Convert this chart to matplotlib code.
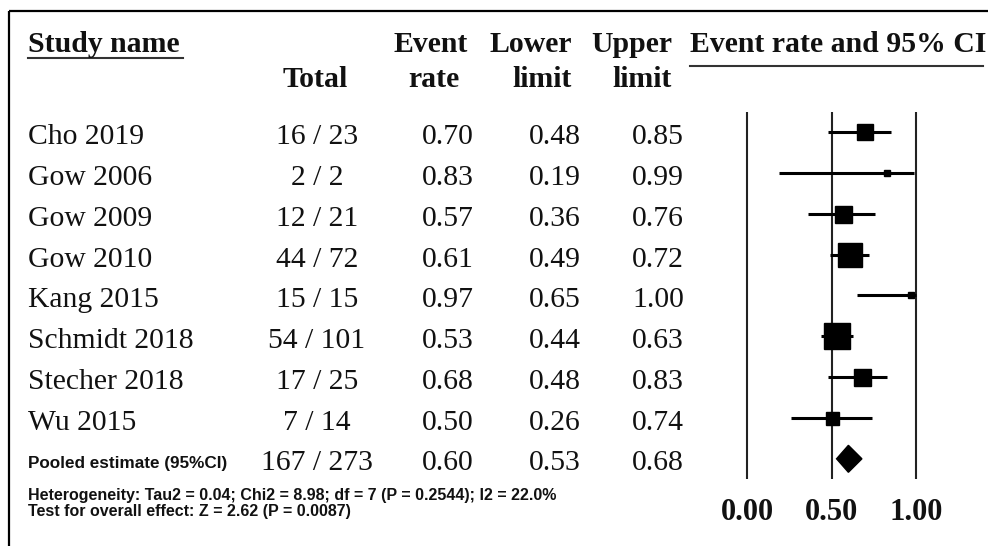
import matplotlib.pyplot as plt

# study-level data
studies = ['Cho 2019', 'Gow 2006', 'Gow 2009', 'Gow 2010', 'Kang 2015',
           'Schmidt 2018', 'Stecher 2018', 'Wu 2015']
events = [16, 2, 12, 44, 15, 54, 17, 7]
totals = [23, 2, 21, 72, 15, 101, 25, 14]
rates = [0.70, 0.83, 0.57, 0.61, 0.97, 0.53, 0.68, 0.50]
lower = [0.48, 0.19, 0.36, 0.49, 0.65, 0.44, 0.48, 0.26]
upper = [0.85, 0.99, 0.76, 0.72, 1.00, 0.63, 0.83, 0.74]
weights = [16, 6, 17, 24, 6, 27, 17, 13]   # box size

pooled_label = 'Pooled estimate (95%CI)'
pooled_events = 167
pooled_total = 273
pooled_rate = 0.60
pooled_lower = 0.53
pooled_upper = 0.68

ticks = [0.0, 0.5, 1.0]
het_text = 'Heterogeneity: Tau2 = 0.04; Chi2 = 8.98; df = 7 (P = 0.2544); I2 = 22.0%'
test_text = 'Test for overall effect: Z = 2.62 (P = 0.0087)'

plt.rcParams['font.family'] = 'Liberation Serif'
TXT = '#111111'

W, H = 988, 546
fig = plt.figure(figsize=(W / 100, H / 100), dpi=100)

# table axes in pixel units
ax = fig.add_axes([0, 0, 1, 1])
ax.set_xlim(0, W)
ax.set_ylim(H, 0)
ax.axis('off')

# forest axes: x = event rate, y = row index
y0, dy = 132, 40.85
x0, xs = 747, 169
fax = fig.add_axes([0, 0, 1, 1])
fax.set_xlim(-x0 / xs, (W - x0) / xs)
fax.set_ylim((H - y0) / dy, -y0 / dy)
fax.axis('off')
fax.patch.set_alpha(0)

# border (top and left)
ax.plot([9, W], [11, 11], color='black', lw=1.6, solid_capstyle='butt')
ax.plot([9, 9], [11, H], color='black', lw=1.6, solid_capstyle='butt')

# headers
hfs = 21.4
hkw = dict(fontsize=hfs, fontweight='bold', color=TXT, va='baseline')
ax.text(28, 52, 'Study name', ha='left', **hkw)
ax.plot([28, 183], [57.5, 57.5], color='#333333', lw=1.5)
ax.text(315, 87, 'Total', ha='center', **hkw)
ax.text(431, 52, 'Event', ha='center', **hkw)
ax.text(434, 87, 'rate', ha='center', **hkw)
ax.text(572, 52, 'Lower', ha='right', **hkw)
ax.text(572, 87, 'limit', ha='right', **hkw)
ax.text(672, 52, 'Upper', ha='right', **hkw)
ax.text(672, 87, 'limit', ha='right', **hkw)
ax.text(690, 52, 'Event rate and 95% CI', ha='left', **hkw)
ax.plot([690, 983], [66, 66], color='#333333', lw=1.5)

# rows
fs = 21.3
kw = dict(fontsize=fs, color=TXT, va='baseline')
for i, name in enumerate(studies):
    yb = y0 + dy * i + 12
    ax.text(28, yb, name, ha='left', **kw)
    ax.text(317, yb, f'{events[i]} / {totals[i]}', ha='center', **kw)
    ax.text(448, yb, f'{rates[i]:.2f}', ha='center', **kw)
    ax.text(555, yb, f'{lower[i]:.2f}', ha='center', **kw)
    ax.text(658, yb, f'{upper[i]:.2f}', ha='center', **kw)

    fax.plot([lower[i], upper[i]], [i, i], color='black', lw=2.2,
             solid_capstyle='butt', zorder=3)
    fax.plot(rates[i], i, marker='s', color='black',
             markersize=weights[i] * 0.72, zorder=4)

# pooled row
n = len(studies)
yb = y0 + dy * n + 11
ax.text(28, yb - 2, pooled_label, ha='left', fontsize=12.3, fontweight='bold',
        family='Liberation Sans', color=TXT, va='baseline')
ax.text(317, yb, f'{pooled_events} / {pooled_total}', ha='center', **kw)
ax.text(448, yb, f'{pooled_rate:.2f}', ha='center', **kw)
ax.text(555, yb, f'{pooled_lower:.2f}', ha='center', **kw)
ax.text(658, yb, f'{pooled_upper:.2f}', ha='center', **kw)

h = 0.33
fax.fill([pooled_lower, pooled_rate, pooled_upper, pooled_rate],
         [n, n - h, n, n + h], color='black', zorder=4)

# reference lines and tick labels
fax.vlines(ticks, -0.49, n + 0.49, color='#222222', lw=1.5, zorder=2)
for t in ticks:
    fax.text(t, n + 1.5, f'{t:.2f}', ha='center', va='baseline',
             fontsize=22, fontweight='bold', color=TXT)

# footnotes
ax.text(28, 500, het_text, ha='left', va='baseline', fontsize=11.5,
        fontweight='bold', family='Liberation Sans', color=TXT)
ax.text(28, 516, test_text, ha='left', va='baseline', fontsize=11.5,
        fontweight='bold', family='Liberation Sans', color=TXT)

fig.savefig('out.png', dpi=100)
